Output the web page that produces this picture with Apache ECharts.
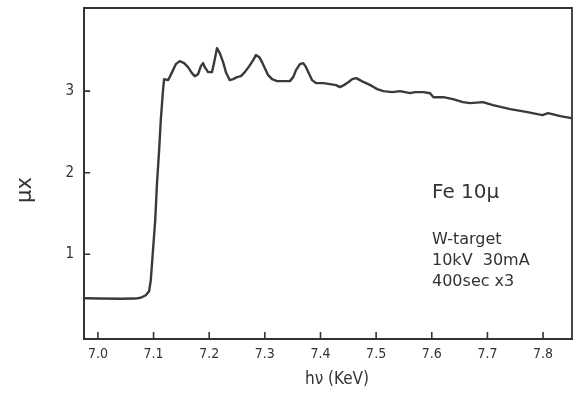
<!DOCTYPE html>
<html>
<head>
<meta charset="utf-8">
<script src="https://cdn.jsdelivr.net/npm/echarts@6/dist/echarts.min.js"></script>
<style>
  html, body { margin: 0; padding: 0; background: #fff; }
  #chart { width: 578px; height: 394px; }
</style>
</head>
<body>
<div id="chart"></div>
<script>
// Fe K-edge absorption spectrum, photon energy (keV) vs. mu*x
const energy = [
  6.978, 7.004, 7.040, 7.067, 7.077, 7.086, 7.092, 7.095, 7.099, 7.103,
  7.106, 7.110, 7.113, 7.117, 7.119, 7.122, 7.126, 7.129, 7.135, 7.140,
  7.147, 7.155, 7.162, 7.169, 7.174, 7.180, 7.185, 7.189, 7.192, 7.198,
  7.205, 7.209, 7.214, 7.219, 7.225, 7.230, 7.237, 7.243, 7.250, 7.257,
  7.264, 7.272, 7.279, 7.284, 7.290, 7.295, 7.300, 7.306, 7.313, 7.322,
  7.335, 7.345, 7.351, 7.356, 7.363, 7.369, 7.374, 7.379, 7.385, 7.392,
  7.405, 7.417, 7.428, 7.435, 7.442, 7.450, 7.457, 7.464, 7.471, 7.478,
  7.486, 7.493, 7.502, 7.513, 7.529, 7.543, 7.552, 7.561, 7.570, 7.585,
  7.597, 7.603, 7.621, 7.638, 7.656, 7.669, 7.692, 7.710, 7.741, 7.772,
  7.799, 7.809, 7.831, 7.851
];
const absorption = [
  0.460, 0.456, 0.454, 0.456, 0.466, 0.497, 0.546, 0.681, 1.049, 1.417,
  1.847, 2.276, 2.644, 3.012, 3.147, 3.160, 3.135, 3.172, 3.258, 3.331,
  3.368, 3.344, 3.294, 3.221, 3.184, 3.209, 3.307, 3.344, 3.294, 3.233,
  3.233, 3.356, 3.528, 3.466, 3.356, 3.233, 3.135, 3.147, 3.172, 3.184,
  3.233, 3.307, 3.380, 3.442, 3.417, 3.356, 3.282, 3.196, 3.147, 3.123,
  3.123, 3.123, 3.172, 3.258, 3.331, 3.344, 3.294, 3.221, 3.135, 3.098,
  3.098, 3.086, 3.074, 3.049, 3.074, 3.110, 3.147, 3.160, 3.135, 3.110,
  3.086, 3.061, 3.025, 3.000, 2.988, 3.000, 2.988, 2.975, 2.988, 2.988,
  2.975, 2.926, 2.926, 2.902, 2.865, 2.853, 2.865, 2.828, 2.779, 2.742,
  2.706, 2.730, 2.693, 2.669
];
const xTicks = [7.0, 7.1, 7.2, 7.3, 7.4, 7.5, 7.6, 7.7, 7.8];
const yTicks = [1, 2, 3];
const sampleName = 'Fe 10\u03bc';
const conditions = ['W-target', '10kV  30mA', '400sec x3'];

const X_MIN = 6.975, X_MAX = 7.852;
const Y_MIN = -0.04, Y_MAX = 4.02;
const ink = '#333';

// short inward tick segments in axis units (about 7 px up / 6 px right)
const TICK_DY = 0.085, TICK_DX = 0.011;
const tickSegments = [];
xTicks.forEach(v => { tickSegments.push([v, Y_MIN], [v, Y_MIN + TICK_DY], ['-', '-']); });
yTicks.forEach(v => { tickSegments.push([X_MIN, v], [X_MIN + TICK_DX, v], ['-', '-']); });

const chart = echarts.init(document.getElementById('chart'));
chart.setOption({
  backgroundColor: '#fff',
  animation: false,
  grid: {
    left: 84, right: 6, top: 8, bottom: 55,
    show: true, borderColor: ink, borderWidth: 1.8, backgroundColor: 'transparent'
  },
  xAxis: {
    type: 'value',
    min: X_MIN, max: X_MAX,
    axisLine: { onZero: false, lineStyle: { color: ink, width: 1.8 } },
    axisTick: { show: false },
    axisLabel: {
      customValues: xTicks, margin: 8,
      color: ink, fontSize: 14, fontFamily: 'DejaVu Sans Condensed',
      formatter: v => v.toFixed(1)
    },
    splitLine: { show: false }
  },
  yAxis: {
    type: 'value',
    min: Y_MIN, max: Y_MAX,
    axisLine: { show: true, onZero: false, lineStyle: { color: ink, width: 1.8 } },
    axisTick: { show: false },
    axisLabel: {
      customValues: yTicks, margin: 10,
      color: ink, fontSize: 15, fontFamily: 'DejaVu Sans Condensed'
    },
    splitLine: { show: false }
  },
  series: [
    {
      type: 'line',
      data: energy.map((e, i) => [e, absorption[i]]),
      showSymbol: false,
      smooth: false,
      lineStyle: { color: '#3a3a3a', width: 2.4, join: 'round', cap: 'round' }
    },
    {
      type: 'line',
      data: tickSegments,
      showSymbol: false,
      connectNulls: false,
      silent: true,
      z: 3,
      lineStyle: { color: ink, width: 1.6 }
    }
  ],
  graphic: [
    { type: 'text', x: 26, y: 190, rotation: Math.PI / 2,
      style: { text: '\u03bcx', fontSize: 21, fontFamily: 'DejaVu Sans', fill: ink, align: 'center', verticalAlign: 'middle' } },
    { type: 'text', x: 337, y: 380,
      style: { text: 'h\u03bd (KeV)', fontSize: 17, fontFamily: 'DejaVu Sans Condensed', fill: ink, align: 'center', verticalAlign: 'middle' } },
    { type: 'text', x: 432, y: 193,
      style: { text: sampleName, fontSize: 20, fontFamily: 'DejaVu Sans', fill: ink, align: 'left', verticalAlign: 'middle' } },
    { type: 'text', x: 432, y: 240,
      style: { text: conditions[0], fontSize: 16, fontFamily: 'DejaVu Sans', fill: ink, align: 'left', verticalAlign: 'middle' } },
    { type: 'text', x: 432, y: 261,
      style: { text: conditions[1], fontSize: 16, fontFamily: 'DejaVu Sans', fill: ink, align: 'left', verticalAlign: 'middle' } },
    { type: 'text', x: 432, y: 282,
      style: { text: conditions[2], fontSize: 16, fontFamily: 'DejaVu Sans', fill: ink, align: 'left', verticalAlign: 'middle' } }
  ]
});
</script>
</body>
</html>
